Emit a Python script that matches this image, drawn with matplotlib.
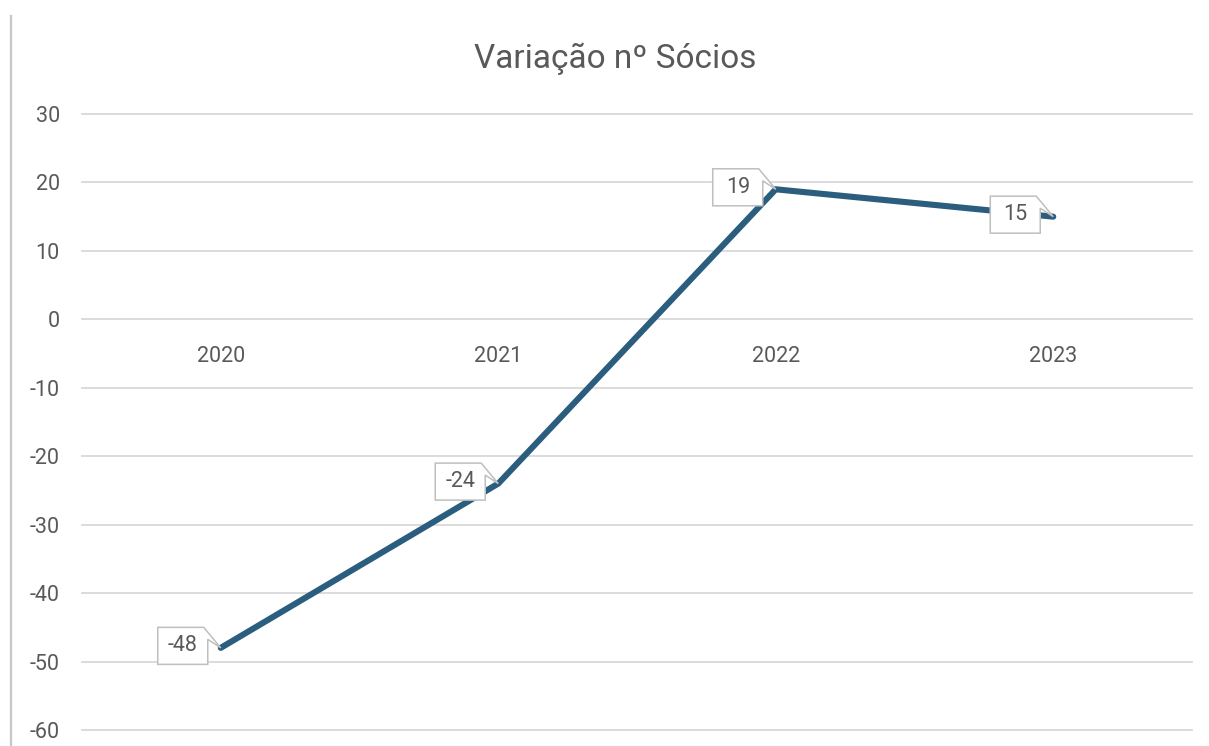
import matplotlib.pyplot as plt
from matplotlib.lines import Line2D
from matplotlib.patches import Polygon

# data
years = ["2020", "2021", "2022", "2023"]
variacao = [-48, -24, 19, 15]
y_ticks = [-60, -50, -40, -30, -20, -10, 0, 10, 20, 30]

line_color = "#2B5E7E"
text_color = "#595959"
grid_color = "#D9D9D9"
box_edge = "#BFBFBF"

plt.rcParams['font.family'] = ['Roboto', 'DejaVu Sans']
plt.rcParams['axes.unicode_minus'] = False

W, H, DPI = 1209, 746, 100
fig = plt.figure(figsize=(W / DPI, H / DPI), dpi=DPI)
fig.patch.set_facecolor("white")
ax = fig.add_axes([82 / W, 1 - 730 / H, (1192 - 82) / W, (730 - 114) / H])

x = list(range(len(years)))
ax.plot(x, variacao, color=line_color, lw=4.4, solid_capstyle="round",
        solid_joinstyle="miter", zorder=3)

ax.set_xlim(-0.5, len(years) - 0.5)
ax.set_ylim(-60, 30)
ax.set_yticks(y_ticks)
ax.set_xticks(x)
ax.set_xticklabels(years)
ax.grid(axis="y", color=grid_color, lw=1.3)
for gl in ax.get_ygridlines():
    gl.set_clip_on(False)
ax.set_axisbelow(True)

for s in ["top", "right", "left"]:
    ax.spines[s].set_visible(False)
ax.spines["bottom"].set_position(("data", 0))
ax.spines["bottom"].set_visible(False)
ax.tick_params(axis="x", length=0, pad=19, labelsize=15.5, labelcolor=text_color)
ax.tick_params(axis="y", length=0, pad=16, labelsize=15.5, labelcolor=text_color)

# title, centred on the chart area
fig.text(615 / W, 1 - 59 / H, "Variação nº Sócios", ha="center", va="center",
         fontsize=24, color=text_color)

# left border line
fig.add_artist(Line2D([11 / W, 11 / W], [0, 1 - 16 / H], color="#C8C8C8", lw=1.6))

# callout labels (pixel offsets from the point)
to_fig = fig.transFigure.inverted()
bw, bh = 50, 37
for xi, v in zip(x, variacao):
    px, py = ax.transData.transform((xi, v))
    right = px - 13
    left = right - bw
    top = py + 2 + bh / 2
    bottom = top - bh
    verts_px = [(left, bottom), (right, bottom), (right, top - 12),
                (px, py), (right - 4, top), (left, top)]
    verts = [to_fig.transform(p) for p in verts_px]
    fig.add_artist(Polygon(verts, closed=True, facecolor="white",
                           edgecolor=box_edge, lw=1.1, zorder=5,
                           transform=fig.transFigure))
    cx, cy = to_fig.transform(((left + right) / 2, (top + bottom) / 2))
    fig.text(cx, cy, str(v), ha="center", va="center", fontsize=15.5,
             color=text_color, zorder=6)

fig.savefig("out.png", dpi=DPI, facecolor="white")
